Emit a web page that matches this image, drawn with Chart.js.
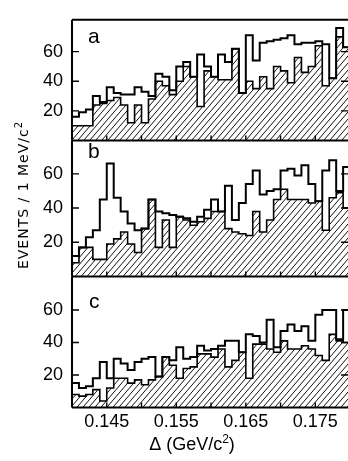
<!DOCTYPE html>
<html>
<head>
<meta charset="utf-8">
<script src="https://cdn.jsdelivr.net/npm/chart.js@4.4.1/dist/chart.umd.min.js"></script>
<style>
html,body{margin:0;padding:0;background:#fff;}
#wrap{position:relative;width:348px;height:461px;overflow:hidden;background:#fff;}
#wrap canvas{position:absolute;left:0;top:0;}
#ylab{position:absolute;left:-87px;top:185px;width:220px;height:20px;line-height:20px;text-align:center;
  transform:rotate(-90deg);font-family:"DejaVu Sans";font-size:14px;letter-spacing:1px;color:#000;white-space:nowrap;}
#ylab sup{font-size:10px;line-height:0;vertical-align:6px;}
</style>
</head>
<body>
<div id="wrap">
  <canvas id="ca" width="348" height="461"></canvas>
  <canvas id="cb" width="348" height="461"></canvas>
  <canvas id="cc" width="348" height="461"></canvas>
  <div id="ylab">EVENTS / 1 MeV/c<sup>2</sup></div>
</div>
<script>
// ---- data (events per 1 MeV bin, bins start at 0.140 GeV/c^2) ----
const binStart = 0.140;
const binWidth = 0.001;
const panelLabels = ['a', 'b', 'c'];
const yTickValues = [20, 40, 60];
const xTickLabels = [0.145, 0.155, 0.165, 0.175];
const xTickMarks = [0.145, 0.150, 0.155, 0.160, 0.165, 0.170, 0.175];

const aTotal   = [16,19,21,30,26,36,32,31,31,36,33,30,45,43,34,50,53,43,58,50,43,58,53,62,32,71,54,66,67,68,69,71,65,66,66,67,65,42,76,63];
const aHatched = [10,10,10,24,25,27,29,24,12,24,12,28,40,37,31,40,50,43,23,47,43,41,41,62,32,40,35,43,35,50,47,39,56,46,50,64,37,42,70,63];

const bTotal   = [12,17,23,27,45,66,46,38,31,27,28,45,38,37,36,35,34,32,35,39,45,38,53,33,43,54,62,48,50,51,62,63,59,65,54,44,62,68,50,64];
const bHatched = [8,17,17,10,10,19,22,26,19,14,28,45,17,33,17,35,33,30,32,34,38,38,28,26,25,24,38,26,33,45,51,45,45,45,43,44,27,46,49,40];

const cTotal   = [15,12,13,18,28,18,30,27,23,28,30,31,19,31,29,37,30,31,38,35,36,38,41,41,34,45,44,40,54,37,47,51,47,50,41,57,60,60,42,60];
const cHatched = [8,7,8,11,4,12,18,18,15,17,14,17,19,31,26,18,24,25,33,33,31,36,25,29,34,18,39,39,36,34,41,36,36,38,36,32,29,45,41,40];

// ---- helpers ----
function steps(vals) {
  const pts = vals.map((v, i) => ({x: binStart + i * binWidth, y: v}));
  pts.push({x: binStart + vals.length * binWidth, y: vals[vals.length - 1]});
  return pts;
}

function makeHatch() {
  const c = document.createElement('canvas');
  c.width = 6; c.height = 7;
  const g = c.getContext('2d');
  g.strokeStyle = '#111';
  g.lineWidth = 1;
  g.beginPath();
  for (const dx of [-6, 0, 6]) { g.moveTo(dx, 7); g.lineTo(dx + 6, 0); }
  g.stroke();
  return g.createPattern(c, 'repeat');
}
const hatch = makeHatch();

const framePlugin = {
  id: 'frame',
  afterDatasetsDraw(chart, args, opts) {
    const {ctx, chartArea: a, scales: {x, y}} = chart;
    ctx.save();
    ctx.strokeStyle = '#000';
    ctx.lineWidth = 2;
    ctx.beginPath();
    ctx.moveTo(a.left, a.top); ctx.lineTo(a.left, a.bottom);
    ctx.moveTo(a.left, a.bottom); ctx.lineTo(a.right, a.bottom);
    if (opts.drawTop) { ctx.moveTo(a.left, a.top); ctx.lineTo(a.right, a.top); }
    ctx.stroke();
    ctx.lineWidth = 1.4;
    ctx.beginPath();
    for (const v of yTickValues) {
      const py = y.getPixelForValue(v);
      ctx.moveTo(a.left, py); ctx.lineTo(a.left + 7, py);
      ctx.moveTo(a.right - 7, py); ctx.lineTo(a.right, py);
    }
    for (const v of xTickMarks) {
      const px = x.getPixelForValue(v);
      ctx.moveTo(px, a.bottom); ctx.lineTo(px, a.bottom - 5);
    }
    ctx.stroke();
    // panel letter
    ctx.fillStyle = '#000';
    ctx.font = '21px "Liberation Sans"';
    ctx.textBaseline = 'alphabetic';
    ctx.textAlign = 'left';
    ctx.fillText(opts.letter, opts.lx, opts.ly);
    // x axis title (bottom panel only)
    if (opts.xTitle) {
      ctx.font = '18px "Liberation Sans"';
      const p1 = 'Δ (GeV/c', p2 = '2', p3 = ')';
      const w1 = ctx.measureText(p1).width;
      ctx.font = '12px "Liberation Sans"';
      const w2 = ctx.measureText(p2).width;
      ctx.font = '18px "Liberation Sans"';
      const w3 = ctx.measureText(p3).width;
      let sx = 192 - (w1 + w2 + w3) / 2;
      const base = 450;
      ctx.fillText(p1, sx, base); sx += w1;
      ctx.font = '12px "Liberation Sans"';
      ctx.fillText(p2, sx, base - 7); sx += w2;
      ctx.font = '18px "Liberation Sans"';
      ctx.fillText(p3, sx, base);
    }
    ctx.restore();
  }
};

function makeChart(id, total, hatched, top, bottom, ymax, frameOpts, showX) {
  return new Chart(document.getElementById(id), {
    type: 'line',
    data: {
      datasets: [
        {data: steps(total), stepped: 'before', borderColor: '#000', borderWidth: 2,
         pointRadius: 0, fill: false, order: 0, borderJoinStyle: 'miter'},
        {data: steps(hatched), stepped: 'before', borderColor: '#000', borderWidth: 1.6,
         pointRadius: 0, fill: 'origin', backgroundColor: hatch, order: 1, borderJoinStyle: 'miter'}
      ]
    },
    options: {
      responsive: false, animation: false, devicePixelRatio: 1,
      layout: {padding: {left: 0, right: 0, top: top, bottom: showX ? 0 : 461 - bottom}},
      plugins: {legend: {display: false}, tooltip: {enabled: false}, frame: frameOpts},
      scales: {
        x: {
          type: 'linear', min: 0.140, max: 0.1797, display: showX,
          afterFit(s) { s.height = showX ? 461 - bottom : 0; },
          afterBuildTicks(s) { s.ticks = xTickLabels.map(v => ({value: v})); },
          grid: {display: false, drawTicks: false},
          border: {display: false},
          ticks: {padding: 4, color: '#000', maxRotation: 0, autoSkip: false,
                  font: {family: 'Liberation Sans', size: 18},
                  callback: v => Number(v).toFixed(3)}
        },
        y: {
          min: 0, max: ymax,
          afterFit(s) { s.width = 72; },
          afterBuildTicks(s) { s.ticks = yTickValues.map(v => ({value: v})); },
          grid: {display: false, drawTicks: false},
          border: {display: false},
          ticks: {padding: 9, color: '#000', font: {family: 'Liberation Sans', size: 18}}
        }
      }
    },
    plugins: [framePlugin]
  });
}

makeChart('ca', aTotal, aHatched, 8, 140.5, 81.5, {drawTop: true, letter: panelLabels[0], lx: 88, ly: 43}, false);
makeChart('cb', bTotal, bHatched, 140.5, 276.5, 79.5, {drawTop: false, letter: panelLabels[1], lx: 88, ly: 158}, false);
makeChart('cc', cTotal, cHatched, 276.5, 407.5, 80.6, {drawTop: false, letter: panelLabels[2], lx: 89, ly: 308, xTitle: true}, true);
</script>
</body>
</html>
